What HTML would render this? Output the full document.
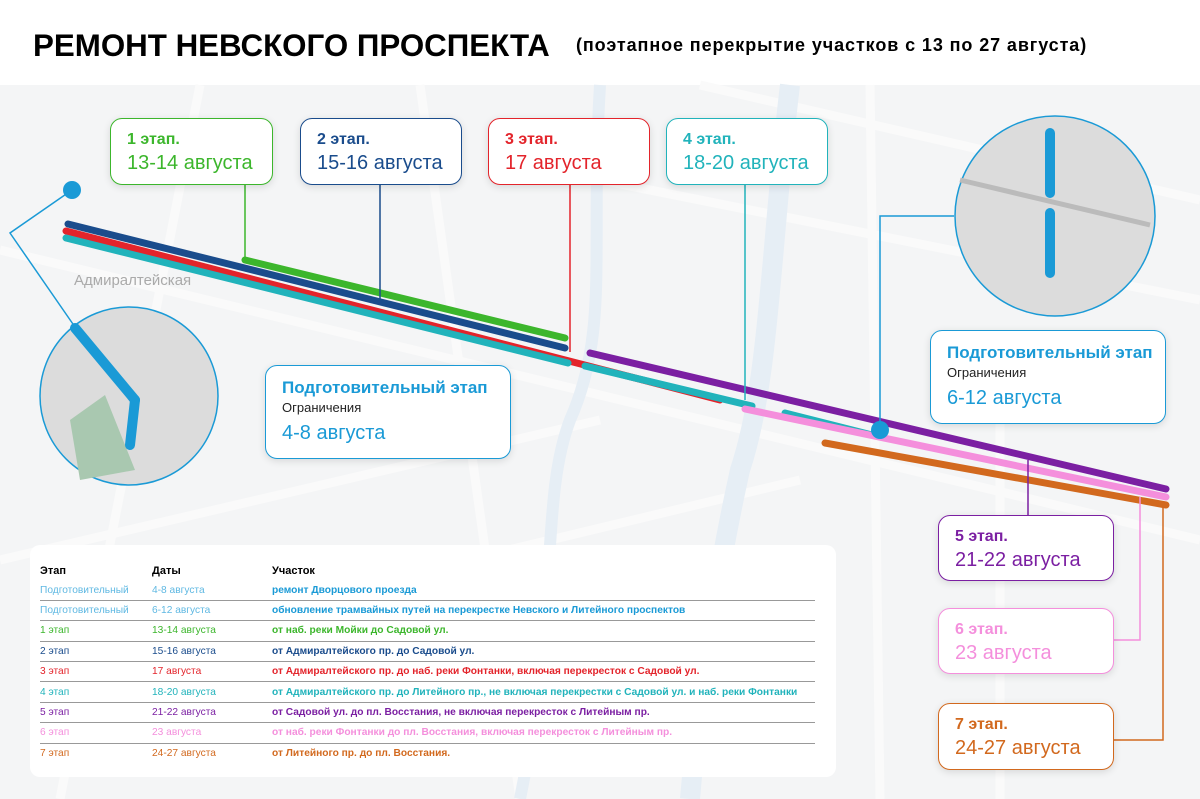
<!DOCTYPE html>
<html><head><meta charset="utf-8">
<style>
body{margin:0;width:1200px;height:799px;overflow:hidden;background:#fff;font-family:"Liberation Sans",sans-serif;position:relative}
.t{position:absolute;white-space:nowrap}
.box{position:absolute;background:#fff;border:1.5px solid;border-radius:12px;box-shadow:0 2px 8px rgba(0,0,0,.12);box-sizing:border-box}
.box b{position:absolute;left:16px;top:12px;font-size:16px}
.box span{position:absolute;left:16px;top:33px;font-size:20px}
table{border-collapse:collapse;font-size:10.2px}
td{padding:0;height:19.4px;border-bottom:1px solid #999}
</style></head><body>
<svg width="1200" height="799" style="position:absolute;left:0;top:0">
<rect x="0" y="85" width="1200" height="714" fill="#f4f5f6"/>
<g stroke="#fafafa" stroke-width="9" fill="none">
<path d="M0 250 L1200 540"/><path d="M200 85 L60 799"/><path d="M420 85 L520 799"/><path d="M870 85 L880 799"/><path d="M0 560 L600 420"/><path d="M700 85 L1200 200"/><path d="M300 600 L800 480"/><path d="M1000 420 L1000 799"/><path d="M600 180 L1200 300"/>
</g>
<path d="M600 85 C590 250 610 330 570 420 C540 500 560 600 520 799" stroke="#e6eef5" stroke-width="12" fill="none"/>
<path d="M790 85 C770 250 770 380 740 470 C720 560 700 680 690 799" stroke="#e6eef5" stroke-width="20" fill="none"/>
<g stroke-linecap="round" stroke-width="7" fill="none">
<line x1="245" y1="260" x2="565" y2="338" stroke="#3cb62c"/>
<line x1="68" y1="224" x2="565" y2="348" stroke="#1a4c8c"/>
<line x1="66" y1="231" x2="720" y2="400" stroke="#e3242b"/>
<line x1="66" y1="238" x2="568" y2="363" stroke="#21b3bb"/>
<line x1="585" y1="366" x2="752" y2="406" stroke="#21b3bb"/>
<line x1="785" y1="413" x2="880" y2="437" stroke="#21b3bb"/>
<line x1="590" y1="353" x2="1166" y2="489" stroke="#7b1fa2"/>
<line x1="745" y1="409" x2="1166" y2="497" stroke="#f48fdc"/>
<line x1="825" y1="443" x2="1166" y2="505" stroke="#d2691e"/>
</g>
<g fill="none" stroke-width="1.5">
<line x1="245" y1="185" x2="245" y2="260" stroke="#3cb62c"/>
<line x1="380" y1="185" x2="380" y2="300" stroke="#1a4c8c"/>
<line x1="570" y1="185" x2="570" y2="352" stroke="#e3242b"/>
<line x1="745" y1="185" x2="745" y2="400" stroke="#21b3bb"/>
<polyline points="954,216 880,216 880,430" stroke="#1a9ad6"/>
<polyline points="72,190 10,233 75,327" stroke="#1a9ad6"/>
<line x1="1028" y1="460" x2="1028" y2="515" stroke="#7b1fa2"/>
<polyline points="1140,497 1140,640 1113,640" stroke="#f48fdc"/>
<polyline points="1163,505 1163,740 1113,740" stroke="#d2691e"/>
</g>
<circle cx="72" cy="190" r="9" fill="#1a9ad6"/>
<circle cx="880" cy="430" r="9" fill="#1a9ad6"/>
<circle cx="129" cy="396" r="89" fill="#dcdcdc" stroke="#1a9ad6" stroke-width="1.5"/>
<path d="M70 420 L105 395 L135 470 L80 480Z" fill="#a9c8b0"/>
<line x1="75" y1="328" x2="135" y2="400" stroke="#1a9ad6" stroke-width="10" stroke-linecap="round"/>
<line x1="135" y1="400" x2="130" y2="445" stroke="#1a9ad6" stroke-width="10" stroke-linecap="round"/>
<circle cx="1055" cy="216" r="100" fill="#dcdcdc" stroke="#1a9ad6" stroke-width="1.5"/>
<line x1="960" y1="180" x2="1150" y2="225" stroke="#bbb" stroke-width="5"/>
<line x1="1050" y1="133" x2="1050" y2="193" stroke="#1a9ad6" stroke-width="10" stroke-linecap="round"/>
<line x1="1050" y1="213" x2="1050" y2="273" stroke="#1a9ad6" stroke-width="10" stroke-linecap="round"/>
</svg>
<div class="t" style="left:33px;top:28px;font-size:31.3px;font-weight:bold">РЕМОНТ НЕВСКОГО ПРОСПЕКТА</div>
<div class="t" style="left:576px;top:35px;font-size:18px;font-weight:bold;letter-spacing:0.9px">(поэтапное перекрытие участков с 13 по 27 августа)</div>
<div class="t" style="left:74px;top:272px;font-size:15px;color:#aaa">Адмиралтейская</div>

<div class="box" style="left:110px;top:118px;width:163px;height:67px;border-color:#3cb62c;color:#3cb62c"><b>1 этап.</b><span>13-14 августа</span></div>
<div class="box" style="left:300px;top:118px;width:162px;height:67px;border-color:#1a4c8c;color:#1a4c8c"><b>2 этап.</b><span>15-16 августа</span></div>
<div class="box" style="left:488px;top:118px;width:162px;height:67px;border-color:#e3242b;color:#e3242b"><b>3 этап.</b><span>17 августа</span></div>
<div class="box" style="left:666px;top:118px;width:162px;height:67px;border-color:#21b3bb;color:#21b3bb"><b>4 этап.</b><span>18-20 августа</span></div>

<div class="box" style="left:265px;top:365px;width:246px;height:94px;border-color:#1a9ad6;color:#1a9ad6"><b style="font-size:17px">Подготовительный этап</b><span style="font-size:13px;color:#222;top:34px">Ограничения</span><span style="top:56px">4-8 августа</span></div>
<div class="box" style="left:930px;top:330px;width:236px;height:94px;border-color:#1a9ad6;color:#1a9ad6"><b style="font-size:17px">Подготовительный этап</b><span style="font-size:13px;color:#222;top:34px">Ограничения</span><span style="top:56px">6-12 августа</span></div>

<div class="box" style="left:938px;top:515px;width:176px;height:66px;border-color:#7b1fa2;color:#7b1fa2"><b>5 этап.</b><span>21-22 августа</span></div>
<div class="box" style="left:938px;top:608px;width:176px;height:66px;border-color:#f48fdc;color:#f48fdc"><b>6 этап.</b><span>23 августа</span></div>
<div class="box" style="left:938px;top:703px;width:176px;height:67px;border-color:#d2691e;color:#d2691e"><b>7 этап.</b><span>24-27 августа</span></div>

<div style="position:absolute;left:30px;top:545px;width:806px;height:232px;background:#fff;border-radius:10px">
<table style="position:absolute;left:10px;top:16px;width:775px">
<tr style="font-weight:bold;font-size:11px"><td style="width:112px;border:none">Этап</td><td style="width:120px;border:none">Даты</td><td style="border:none">Участок</td></tr>
<tr style="color:#1a9ad6"><td style="opacity:.7">Подготовительный</td><td style="opacity:.7">4-8 августа</td><td><b>ремонт Дворцового проезда</b></td></tr>
<tr style="color:#1a9ad6"><td style="opacity:.7">Подготовительный</td><td style="opacity:.7">6-12 августа</td><td><b>обновление трамвайных путей на перекрестке Невского и Литейного проспектов</b></td></tr>
<tr style="color:#3cb62c"><td>1 этап</td><td>13-14 августа</td><td><b>от наб. реки Мойки до Садовой ул.</b></td></tr>
<tr style="color:#1a4c8c"><td>2 этап</td><td>15-16 августа</td><td><b>от Адмиралтейского пр. до Садовой ул.</b></td></tr>
<tr style="color:#e3242b"><td>3 этап</td><td>17 августа</td><td><b>от Адмиралтейского пр. до наб. реки Фонтанки, включая перекресток с Садовой ул.</b></td></tr>
<tr style="color:#21b3bb"><td>4 этап</td><td>18-20 августа</td><td><b>от Адмиралтейского пр. до Литейного пр., не включая перекрестки с Садовой ул. и наб. реки Фонтанки</b></td></tr>
<tr style="color:#7b1fa2"><td>5 этап</td><td>21-22 августа</td><td><b>от Садовой ул. до пл. Восстания, не включая перекресток с Литейным пр.</b></td></tr>
<tr style="color:#f48fdc"><td>6 этап</td><td>23 августа</td><td><b>от наб. реки Фонтанки до пл. Восстания, включая перекресток с Литейным пр.</b></td></tr>
<tr style="color:#d2691e"><td style="border:none">7 этап</td><td style="border:none">24-27 августа</td><td style="border:none"><b>от Литейного пр. до пл. Восстания.</b></td></tr>
</table></div>
</body></html>
